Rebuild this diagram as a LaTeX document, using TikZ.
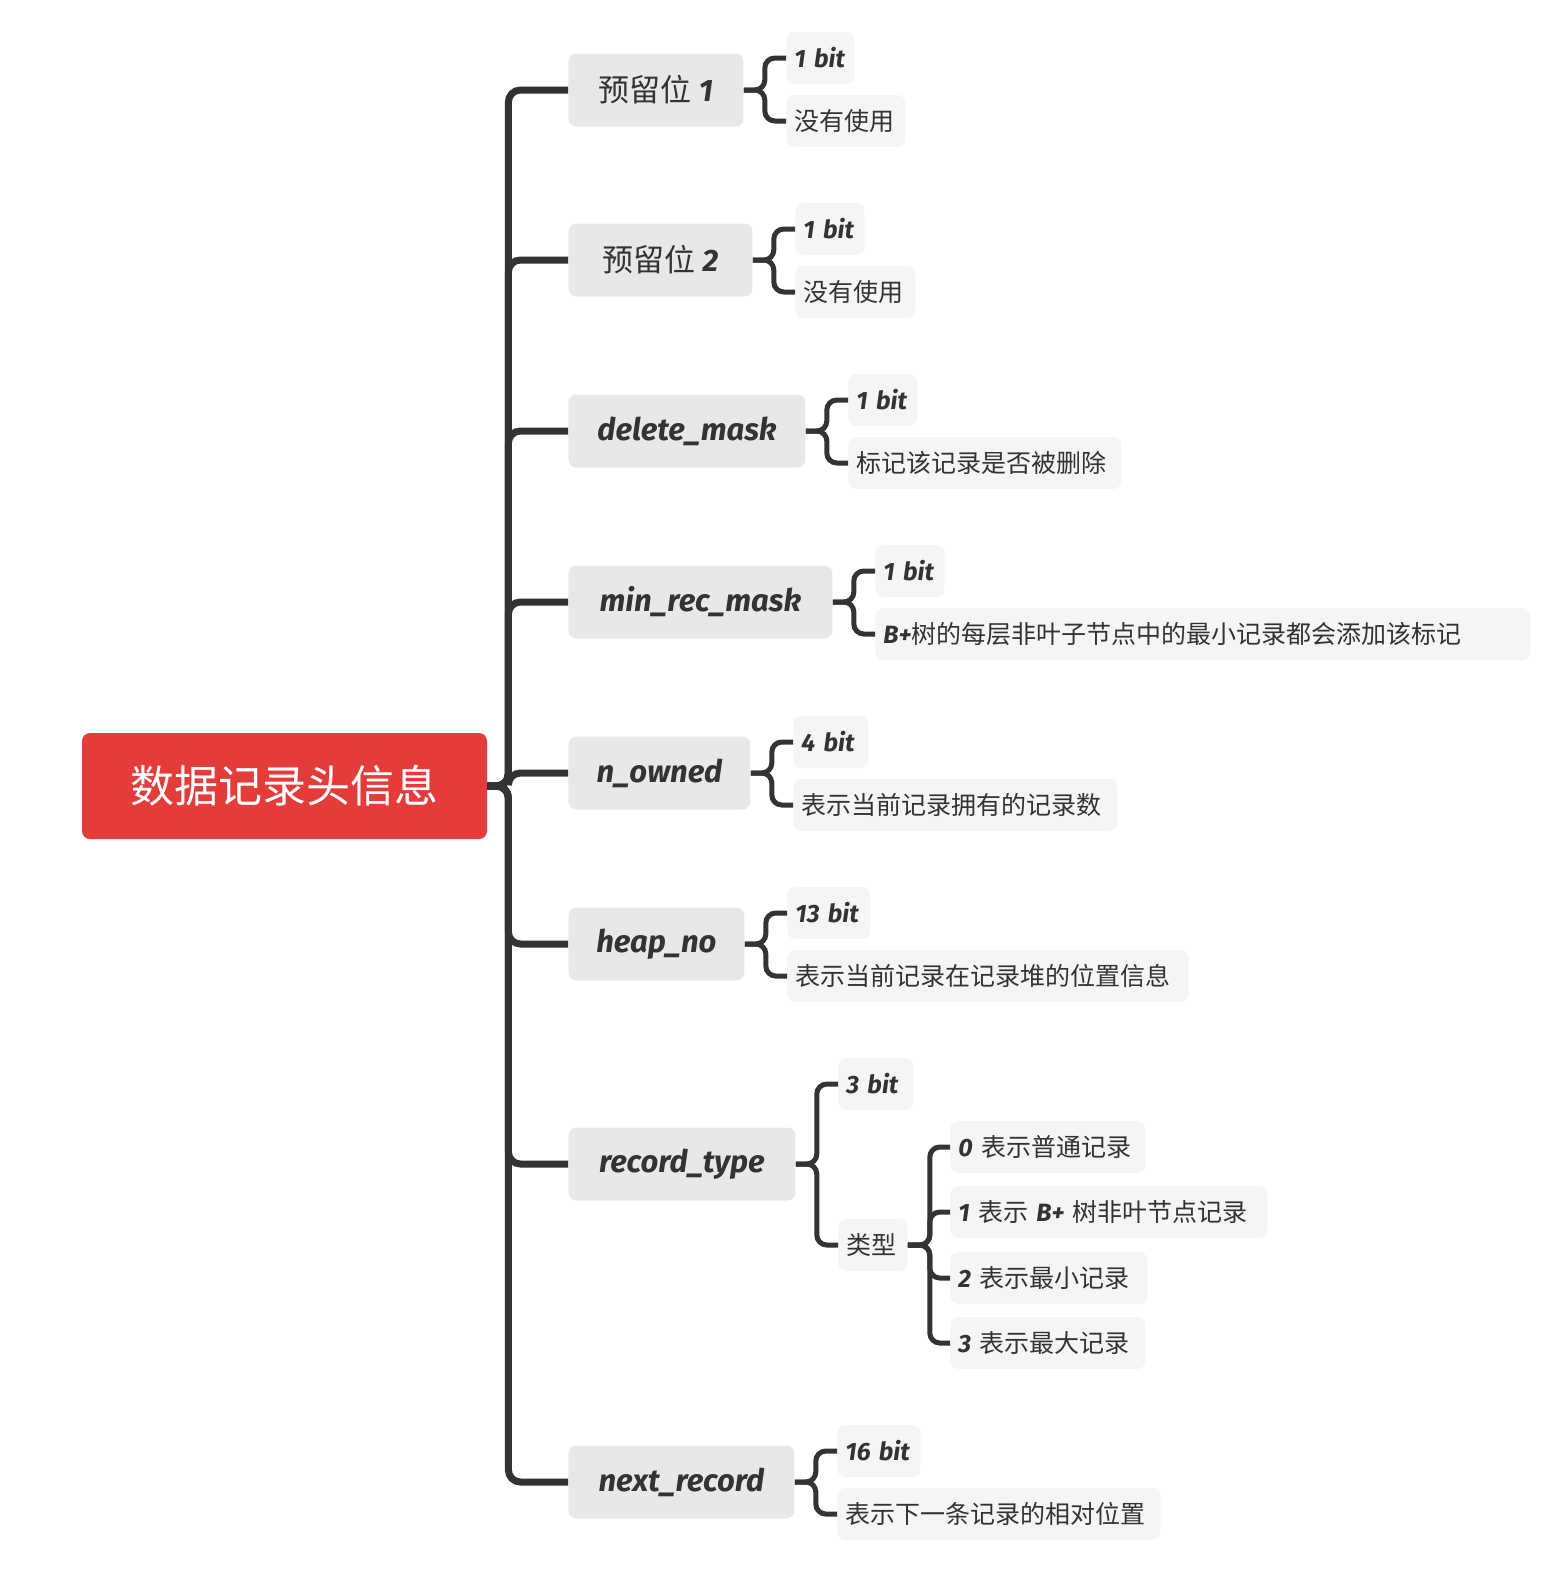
\documentclass[tikz,border=0pt]{standalone}
\usepackage{fontspec}
\newfontfamily\cjk{Noto Sans CJK SC}
\newfontfamily\hand{Fira Sans}
\newcommand{\hw}[1]{{\hand\bfseries\itshape #1}}
\definecolor{rootred}{HTML}{E33C3A}
\definecolor{topicgray}{HTML}{E8E8E8}
\definecolor{leafgray}{HTML}{F5F5F5}
\definecolor{linegray}{HTML}{333333}
\begin{document}
\begin{tikzpicture}[x=0.5pt,y=-0.5pt,
    root/.style={fill=rootred,text=white,rounded corners=4pt,
      minimum width=202.5pt,minimum height=53pt,
      font=\cjk\fontsize{22}{26}\selectfont},
    topic/.style={anchor=west,fill=topicgray,text=linegray,rounded corners=4pt,
      minimum width=#1*0.5pt,minimum height=36.5pt,inner xsep=6pt,
      font=\cjk\fontsize{15.5}{18}\selectfont},
    leaf/.style={anchor=west,fill=leafgray,text=linegray,rounded corners=4pt,
      text width={#1*0.5pt-8pt},align=left,minimum height=26pt,inner xsep=4pt,
      font=\cjk\fontsize{12.5}{15}\selectfont},
    trunk/.style={draw=linegray,line width=3.5pt,rounded corners=6pt},
    twig/.style={draw=linegray,line width=2.5pt,rounded corners=5pt}]
  \useasboundingbox (0,0) rectangle (1550,1570);
  \node[root] (rec) at (284.5,786) {数据记录头信息};
  \draw
    (568,90) node[topic=175] (c1) {预留位 \hw{1}}
    (568,260) node[topic=184] (c2) {预留位 \hw{2}}
    (568,431) node[topic=237] (c3) {\hw{delete\_mask}}
    (568,602) node[topic=264] (c4) {\hw{min\_rec\_mask}}
    (568,773) node[topic=182] (c5) {\hw{n\_owned}}
    (568,944) node[topic=176] (c6) {\hw{heap\_no}}
    (568,1164) node[topic=227] (c7) {\hw{record\_type}}
    (568,1482) node[topic=226] (c8) {\hw{next\_record}};
  \draw
    (786,58) node[leaf=68] (l1a) {\hw{1~bit}}
    (786,121) node[leaf=119] (l1b) {没有使用}
    (795,229) node[leaf=69] (l2a) {\hw{1~bit}}
    (795,292) node[leaf=120] (l2b) {没有使用}
    (848,400) node[leaf=69] (l3a) {\hw{1~bit}}
    (848,463) node[leaf=273] (l3b) {标记该记录是否被删除}
    (875,571) node[leaf=69] (l4a) {\hw{1~bit}}
    (875,634) node[leaf=655] (l4b) {\hw{B+}树的每层非叶子节点中的最小记录都会添加该标记}
    (793,742) node[leaf=75] (l5a) {\hw{4~bit}}
    (793,805) node[leaf=324] (l5b) {表示当前记录拥有的记录数}
    (787,913) node[leaf=83] (l6a) {\hw{13~bit}}
    (787,976) node[leaf=401] (l6b) {表示当前记录在记录堆的位置信息}
    (838,1084) node[leaf=75] (l7a) {\hw{3~bit}}
    (838,1245) node[leaf=69] (l7b) {类型}
    (837,1451) node[leaf=83] (l8a) {\hw{16~bit}}
    (837,1514) node[leaf=323] (l8b) {表示下一条记录的相对位置};
  \draw
    (950,1147) node[leaf=195] (t0) {\hw{0} 表示普通记录}
    (950,1212) node[leaf=317] (t1) {\hw{1} 表示 \hw{B+} 树非叶节点记录}
    (950,1278) node[leaf=197] (t2) {\hw{2} 表示最小记录}
    (950,1343) node[leaf=195] (t3) {\hw{3} 表示最大记录};
  \foreach \c in {c1,c2,c3,c4,c5,c6,c7,c8}
    \draw[trunk] (rec.east) -- ++(21,0) |- (\c.west);
  \foreach \c/\a/\b in {c1/l1a/l1b,c2/l2a/l2b,c3/l3a/l3b,c4/l4a/l4b,
      c5/l5a/l5b,c6/l6a/l6b,c7/l7a/l7b,c8/l8a/l8b} {
    \draw[twig] (\c.east) -- ++(21,0) |- (\a.west);
    \draw[twig] (\c.east) -- ++(21,0) |- (\b.west);
  }
  \foreach \t in {t0,t1,t2,t3}
    \draw[twig] (l7b.east) -- ++(22,0) |- (\t.west);
\end{tikzpicture}
\end{document}
